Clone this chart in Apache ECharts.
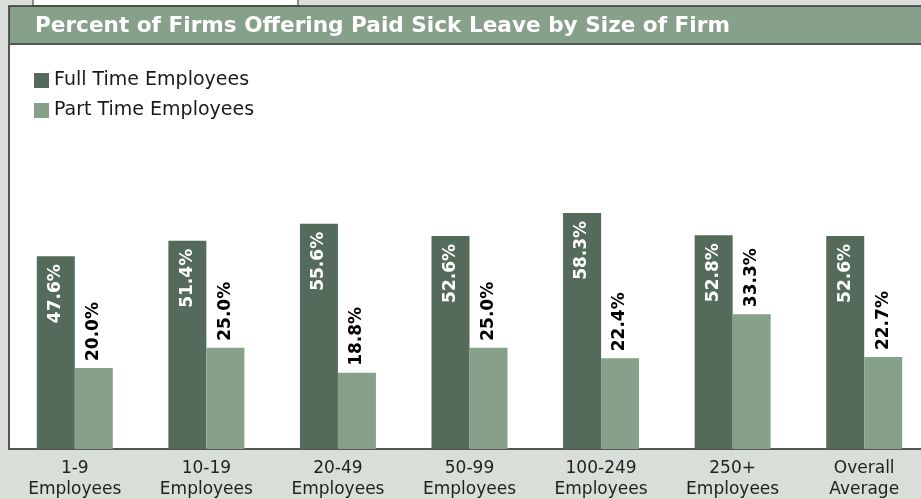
<!DOCTYPE html>
<html>
<head>
<meta charset="utf-8">
<script src="https://cdn.jsdelivr.net/npm/echarts@6/dist/echarts.min.js"></script>
<style>
  html, body { margin: 0; padding: 0; }
  #main { width: 921px; height: 499px; }
</style>
</head>
<body>
<div id="main"></div>
<script>
var categories = ['1-9\nEmployees', '10-19\nEmployees', '20-49\nEmployees', '50-99\nEmployees',
                  '100-249\nEmployees', '250+\nEmployees', 'Overall\nAverage'];
var fullTime = [47.6, 51.4, 55.6, 52.6, 58.3, 52.8, 52.6];
var partTime = [20.0, 25.0, 18.8, 25.0, 22.4, 33.3, 22.7];

var font = 'DejaVu Sans';
var pct = function (p) { return p.value.toFixed(1) + '%'; };

var chart = echarts.init(document.getElementById('main'));

var option = {
    backgroundColor: '#D9DED8',
    animation: false,
    title: {
        text: 'Percent of Firms Offering Paid Sick Leave by Size of Firm',
        left: 35,
        top: 15,
        padding: 0,
        textStyle: { color: '#ffffff', fontFamily: font, fontWeight: 'bold', fontSize: 21.6 }
    },
    graphic: [
        // small box cut off at top
        { type: 'rect', z: -1, shape: { x: 33, y: -2, width: 265, height: 8 },
          style: { fill: '#ffffff', stroke: '#333', lineWidth: 1 } },
        // title band
        { type: 'rect', z: -1, shape: { x: 9, y: 6, width: 920, height: 38 },
          style: { fill: '#87A08A', stroke: '#333', lineWidth: 1.5 } },
        // white panel
        { type: 'rect', z: -1, shape: { x: 9, y: 44, width: 920, height: 405 },
          style: { fill: '#ffffff', stroke: '#555', lineWidth: 2 } }
    ],
    legend: {
        orient: 'vertical',
        left: 34,
        top: 71,
        padding: 0,
        itemWidth: 15,
        itemHeight: 15,
        itemGap: 11,
        icon: 'rect',
        textStyle: { fontFamily: font, fontSize: 19, color: '#1a1a1a' },
        data: ['Full Time Employees', 'Part Time Employees']
    },
    grid: { left: 9, width: 921, top: 44, bottom: 50, outerBoundsMode: 'none' },
    xAxis: {
        type: 'category',
        data: categories,
        axisLine: { show: true, lineStyle: { color: '#555', width: 2 } },
        axisTick: { show: false },
        axisLabel: { fontFamily: font, fontSize: 17, color: '#222', lineHeight: 21, margin: 9, interval: 0 }
    },
    yAxis: {
        type: 'value',
        min: 0,
        max: 100,
        show: false
    },
    series: [
        {
            name: 'Full Time Employees',
            type: 'bar',
            data: fullTime,
            barWidth: 38,
            barGap: '0%',
            itemStyle: { color: '#546A5A' },
            label: {
                show: true, position: 'insideTop', rotate: 90, align: 'right', verticalAlign: 'middle',
                distance: 8, color: '#ffffff', fontFamily: font, fontWeight: 'bold', fontSize: 17,
                formatter: pct
            }
        },
        {
            name: 'Part Time Employees',
            type: 'bar',
            data: partTime,
            barWidth: 38,
            itemStyle: { color: '#87A08A' },
            label: {
                show: true, position: 'top', rotate: 90, align: 'left', verticalAlign: 'middle',
                distance: 7, color: '#000000', fontFamily: font, fontWeight: 'bold', fontSize: 17,
                formatter: pct
            }
        }
    ]
};

chart.setOption(option);
</script>
</body>
</html>
